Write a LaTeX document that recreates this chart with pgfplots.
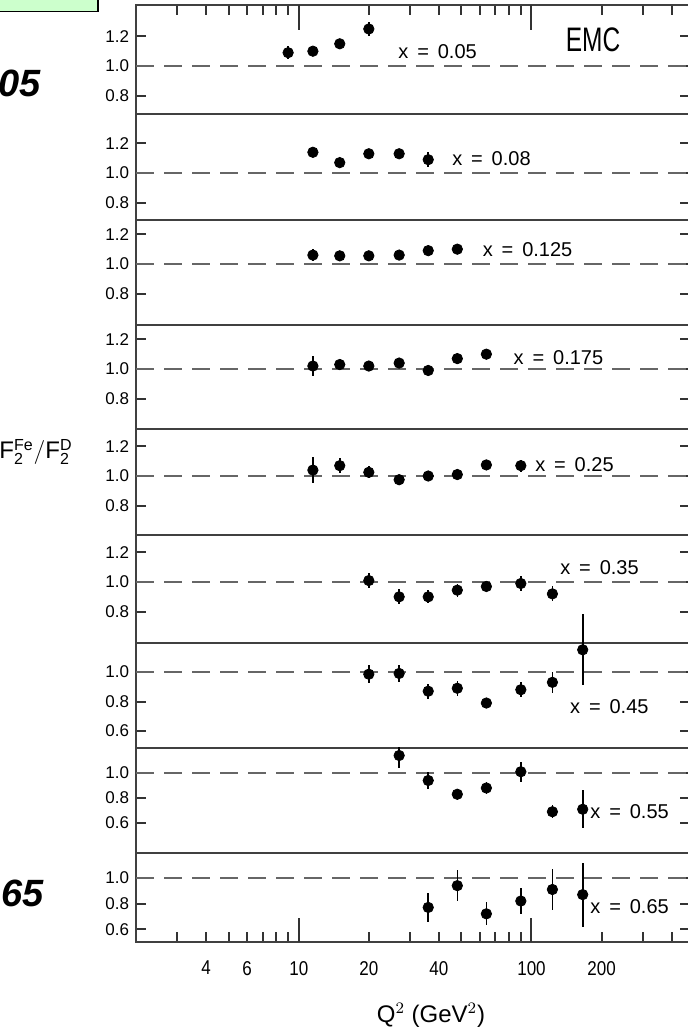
\documentclass[border=0pt]{standalone}
\usepackage{fontspec}
\setmainfont{Liberation Sans}
\newfontfamily\cond{Liberation Sans}[FakeStretch=0.85]
\newfontfamily\narrowemc{Liberation Sans}[FakeStretch=0.72]
\usepackage{pgfplots}
\usepackage{pgfplotstable}
\pgfplotsset{compat=1.18}

\pgfplotstableread{
q y e
9.0 1.09 0.045
11.5 1.10 0.025
15.0 1.15 0.025
20.0 1.25 0.05
}\tA
\pgfplotstableread{
q y e
11.5 1.14 0.025
15.0 1.07 0.025
20.0 1.13 0.025
27.0 1.13 0.025
36.0 1.09 0.05
}\tB
\pgfplotstableread{
q y e
11.5 1.06 0.04
15.0 1.055 0.03
20.0 1.055 0.03
27.0 1.06 0.025
36.0 1.09 0.025
48.0 1.10 0.03
}\tC
\pgfplotstableread{
q y e
11.5 1.02 0.07
15.0 1.03 0.035
20.0 1.02 0.035
27.0 1.04 0.035
36.0 0.99 0.03
48.0 1.07 0.035
64.0 1.10 0.03
}\tD
\pgfplotstableread{
q y e
11.5 1.04 0.09
15.0 1.07 0.05
20.0 1.025 0.04
27.0 0.975 0.035
36.0 1.00 0.03
48.0 1.01 0.03
64.0 1.075 0.03
90.0 1.07 0.04
}\tE
\pgfplotstableread{
q y e
20.0 1.01 0.05
27.0 0.90 0.05
36.0 0.90 0.045
48.0 0.945 0.045
64.0 0.97 0.04
90.0 0.99 0.05
123.0 0.92 0.05
}\tF
\pgfplotstableread{
q y e
20.0 0.985 0.06
27.0 0.99 0.06
36.0 0.87 0.05
48.0 0.89 0.05
64.0 0.79 0.035
90.0 0.88 0.05
123.0 0.93 0.07
166.0 1.15 0.24
}\tG
\pgfplotstableread{
q y e
27.0 1.14 0.10
36.0 0.94 0.07
48.0 0.83 0.045
64.0 0.88 0.05
90.0 1.01 0.08
123.0 0.69 0.05
166.0 0.71 0.15
}\tH
\pgfplotstableread{
q y e
36.0 0.77 0.11
48.0 0.94 0.12
64.0 0.72 0.09
90.0 0.82 0.10
123.0 0.91 0.16
166.0 0.87 0.25
}\tI

\tikzset{lab/.style={font=\fontsize{10}{12}\selectfont, inner sep=0pt}}

\pgfplotsset{
  emcpanel/.style={
    xmin=2, xmax=480,
    scale only axis, width=276.95pt,
    anchor=south west,
    axis line style={line width=1pt, black!75},
    tick style={line width=1pt, black!80},
    major tick length=5pt, minor tick length=5pt,
    tick align=inside,
    ytick pos=both, yticklabel pos=left,
    xmajorticks=false, xminorticks=false,
    yticklabel style={/pgf/number format/fixed, /pgf/number format/fixed zerofill, /pgf/number format/precision=1, /pgf/number format/assume math mode=true, font=\fontsize{8.5}{10}\selectfont},
    xticklabel style={font=\cond\fontsize{10}{12}\selectfont, yshift=-6pt},
  },
  emcpts/.style={only marks, mark=*, mark size=2.6pt, black,
    error bars/y dir=both, error bars/y explicit, error bars/error mark=none,
    error bars/error bar style={line width=0.8pt, black}},
  unity/.style={line width=1pt, black!60, dash pattern=on 9pt off 5pt, forget plot},
  longtick/.style={line width=1pt, black!80, forget plot},
}

\begin{document}
\begin{tikzpicture}
\useasboundingbox (0,0) rectangle (343.5pt,514pt);

% decorations left
\draw[line width=0.8pt, fill={rgb,255:red,204;green,255;blue,204}] (-3pt,508.2pt) rectangle (48.9pt,520pt);
\node[anchor=east, font=\fontsize{19}{22}\selectfont\bfseries\itshape, inner sep=0pt] at (20.5pt,472.5pt) {05};
\node[anchor=east, font=\fontsize{19}{22}\selectfont\bfseries\itshape, inner sep=0pt] at (22pt,67.5pt) {65};
\node[font=\fontsize{12}{14}\selectfont, inner sep=0pt] at (18pt,288pt) {$\mathrm{F_2^{Fe}/F_2^{D}}$};
\node[font=\fontsize{12}{14}\selectfont] at (215.5pt,6.5pt) {Q$^{2}$ (GeV$^{2}$)};

% P1
\begin{semilogxaxis}[emcpanel, at={(68.05pt,457pt)}, height=54.5pt, ymin=0.676, ymax=1.412,
  ytick={0.8,1.0,1.2},
  xmajorticks=true, xminorticks=true, xtick pos=right,
  xtick={4,6,10,20,40,100,200}, xticklabels={},
  minor xtick={3,4,5,6,7,8,9,20,30,40,50,60,70,80,90,200,300,400}]
\addplot[unity] coordinates {(2,1) (480,1)};
\addplot[longtick] coordinates {(10,1.412) (10,1.243)};
\addplot[longtick] coordinates {(100,1.412) (100,1.243)};
\addplot[emcpts] table[x=q, y=y, y error=e] {\tA};
\node[lab] at (axis cs:39.5,1.095) {x\, =\, 0.05};
\node[font=\narrowemc\fontsize{17}{20}\selectfont, inner sep=0pt] at (axis cs:184,1.176) {EMC};
\end{semilogxaxis}

% P2
\begin{semilogxaxis}[emcpanel, at={(68.05pt,404pt)}, height=53pt, ymin=0.682, ymax=1.399, ytick={0.8,1.0,1.2}]
\addplot[unity] coordinates {(2,1) (480,1)};
\addplot[emcpts] table[x=q, y=y, y error=e] {\tB};
\node[lab] at (axis cs:67.3,1.10) {x\, =\, 0.08};
\end{semilogxaxis}

% P3
\begin{semilogxaxis}[emcpanel, at={(68.05pt,351.5pt)}, height=52.5pt, ymin=0.588, ymax=1.297, ytick={0.8,1.0,1.2}]
\addplot[unity] coordinates {(2,1) (480,1)};
\addplot[emcpts] table[x=q, y=y, y error=e] {\tC};
\node[lab] at (axis cs:96.2,1.10) {x\, =\, 0.125};
\end{semilogxaxis}

% P4
\begin{semilogxaxis}[emcpanel, at={(68.05pt,299.5pt)}, height=52pt, ymin=0.595, ymax=1.297, ytick={0.8,1.0,1.2}]
\addplot[unity] coordinates {(2,1) (480,1)};
\addplot[emcpts] table[x=q, y=y, y error=e] {\tD};
\node[lab] at (axis cs:130.6,1.08) {x\, =\, 0.175};
\end{semilogxaxis}

% P5
\begin{semilogxaxis}[emcpanel, at={(68.05pt,246.5pt)}, height=53pt, ymin=0.601, ymax=1.318, ytick={0.8,1.0,1.2}]
\addplot[unity] coordinates {(2,1) (480,1)};
\addplot[emcpts] table[x=q, y=y, y error=e] {\tE};
\node[lab] at (axis cs:153,1.08) {x\, =\, 0.25};
\end{semilogxaxis}

% P6
\begin{semilogxaxis}[emcpanel, at={(68.05pt,192.5pt)}, height=54pt, ymin=0.588, ymax=1.318, ytick={0.8,1.0,1.2}]
\addplot[unity] coordinates {(2,1) (480,1)};
\addplot[emcpts] table[x=q, y=y, y error=e] {\tF};
\node[lab] at (axis cs:196,1.095) {x\, =\, 0.35};
\end{semilogxaxis}

% P7
\begin{semilogxaxis}[emcpanel, at={(68.05pt,140pt)}, height=52.5pt, ymin=0.486, ymax=1.196, ytick={0.6,0.8,1.0}, clip=false]
\addplot[unity] coordinates {(2,1) (480,1)};
\addplot[emcpts] table[x=q, y=y, y error=e] {\tG};
\node[lab] at (axis cs:216,0.763) {x\, =\, 0.45};
\end{semilogxaxis}

% P8
\begin{semilogxaxis}[emcpanel, at={(68.05pt,87.5pt)}, height=52.5pt, ymin=0.36, ymax=1.2, ytick={0.6,0.8,1.0}]
\addplot[unity] coordinates {(2,1) (480,1)};
\addplot[emcpts] table[x=q, y=y, y error=e] {\tH};
\node[lab] at (axis cs:264,0.688) {x\, =\, 0.55};
\end{semilogxaxis}

% P9
\begin{semilogxaxis}[emcpanel, at={(68.05pt,43pt)}, height=44.5pt, ymin=0.5, ymax=1.195, ytick={0.6,0.8,1.0},
  xmajorticks=true, xminorticks=true, xtick pos=left,
  xtick={4,6,10,20,40,100,200}, xticklabels={4,6,10,20,40,100,200},
  minor xtick={3,4,5,6,7,8,9,20,30,40,50,60,70,80,90,200,300,400}]
\addplot[unity] coordinates {(2,1) (480,1)};
\addplot[longtick] coordinates {(10,0.5) (10,0.687)};
\addplot[longtick] coordinates {(100,0.5) (100,0.687)};
\addplot[emcpts] table[x=q, y=y, y error=e] {\tI};
\node[lab] at (axis cs:264,0.773) {x\, =\, 0.65};
\end{semilogxaxis}
\end{tikzpicture}
\end{document}
